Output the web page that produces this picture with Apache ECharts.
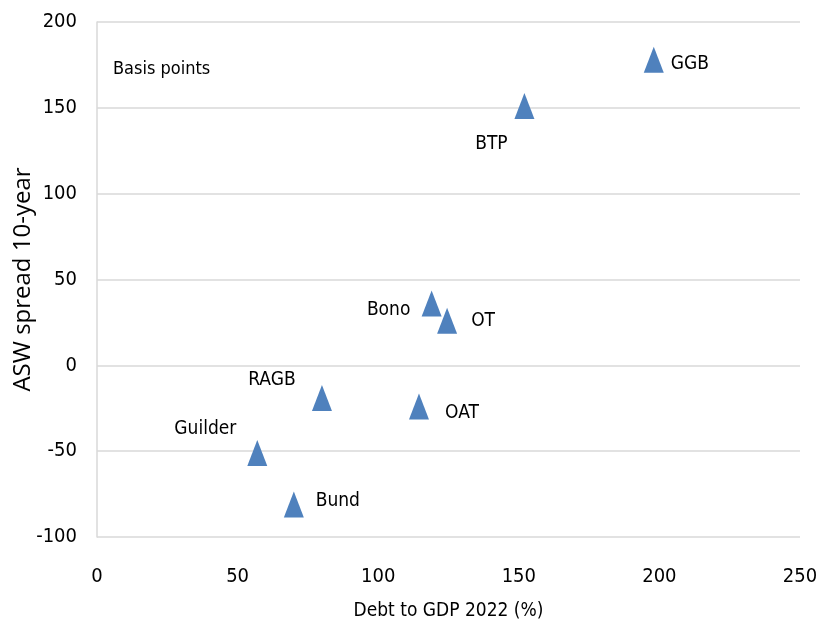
<!DOCTYPE html>
<html>
<head>
<meta charset="utf-8">
<script src="https://cdn.jsdelivr.net/npm/echarts@6/dist/echarts.min.js"></script>
<style>
html,body{margin:0;padding:0;background:#fff;}
#chart{width:823px;height:627px;}
</style>
</head>
<body>
<div id="chart"></div>
<script>
// Data
const bonds = ['GGB', 'BTP', 'Bono', 'OT', 'RAGB', 'OAT', 'Guilder', 'Bund'];
const debtToGdp = [198, 152, 119, 124.5, 80, 114.5, 57, 70];
const aswSpread = [178, 151, 36, 26, -19, -24, -51, -81];
const xTicks = [0, 50, 100, 150, 200, 250];
const yTicks = [-100, -50, 0, 50, 100, 150, 200];

// Label placement (style, offsets from marker centre in px)
const labelOffsets = {
  GGB: [36, 4], BTP: [-33, 38], Bono: [-43, 7], OT: [36, 0],
  RAGB: [-50, -18], OAT: [43, 7], Guilder: [-52, -24], Bund: [44, -3]
};

const FONT = '"DejaVu Sans Condensed", "Liberation Sans Narrow", "Roboto Condensed", "Liberation Sans", sans-serif';

const points = bonds.map((name, i) => ({
  name: name,
  value: [debtToGdp[i], aswSpread[i]],
  label: { offset: labelOffsets[name] }
}));

const chart = echarts.init(document.getElementById('chart'), null, { renderer: 'canvas' });
chart.setOption({
  animation: false,
  backgroundColor: '#ffffff',
  grid: { left: 97, right: 23, top: 22, bottom: 90, containLabel: false, outerBoundsMode: 'none' },
  xAxis: {
    type: 'value',
    min: xTicks[0], max: xTicks[xTicks.length - 1], interval: 50,
    name: 'Debt to GDP 2022 (%)',
    nameLocation: 'middle', nameGap: 65, nameMoveOverlap: false,
    nameTextStyle: { fontFamily: FONT, fontSize: 19, color: '#000' },
    axisLine: { show: false },
    axisTick: { show: false },
    splitLine: { show: false },
    axisLabel: { fontFamily: FONT, fontSize: 20, color: '#000', margin: 30 }
  },
  yAxis: {
    type: 'value',
    min: yTicks[0], max: yTicks[yTicks.length - 1], interval: 50,
    name: 'ASW spread 10-year',
    nameLocation: 'middle', nameGap: 62, nameMoveOverlap: false,
    nameTextStyle: { fontFamily: '"Open Sans", "DejaVu Sans", sans-serif', fontSize: 24, color: '#000' },
    axisLine: { show: true, lineStyle: { color: '#d9d9d9', width: 1.5 } },
    axisTick: { show: false },
    splitLine: { show: true, lineStyle: { color: '#d9d9d9', width: 1.5 } },
    axisLabel: { fontFamily: FONT, fontSize: 20, color: '#000', margin: 20 }
  },
  graphic: [{
    type: 'text', left: 113, top: 60,
    style: { text: 'Basis points', fontFamily: FONT, fontSize: 18, fill: '#000' }
  }],
  series: [{
    type: 'scatter',
    symbol: 'triangle',
    symbolSize: [20, 26],
    itemStyle: { color: '#4f81bd', opacity: 1 },
    label: {
      show: true, position: 'inside', align: 'center', verticalAlign: 'middle',
      formatter: '{b}', fontFamily: FONT, fontSize: 19, color: '#000'
    },
    emphasis: { disabled: true },
    data: points
  }]
});
</script>
</body>
</html>
